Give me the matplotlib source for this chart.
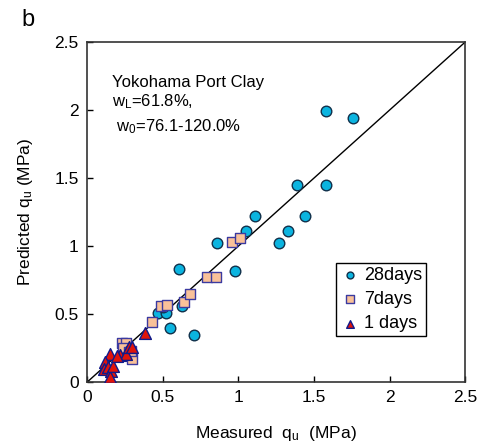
import numpy as np
import matplotlib
matplotlib.use('Agg')
import matplotlib.pyplot as plt

plt.rcParams['font.family'] = ['Liberation Sans', 'DejaVu Sans']
plt.rcParams['mathtext.default'] = 'regular'

# 28 days
d28_meas = [0.47, 0.52, 0.50, 0.55, 0.63, 0.71, 0.61, 0.86, 0.98, 1.05, 1.11,
            1.27, 1.33, 1.39, 1.44, 1.58, 1.58, 1.76]
d28_pred = [0.51, 0.51, 0.55, 0.40, 0.56, 0.35, 0.83, 1.02, 0.82, 1.11, 1.22,
            1.02, 1.11, 1.45, 1.22, 1.45, 1.99, 1.94]
# 7 days
d7_meas = [0.23, 0.26, 0.24, 0.28, 0.30, 0.29, 0.43, 0.49, 0.53, 0.64, 0.68,
           0.79, 0.85, 0.96, 1.01]
d7_pred = [0.29, 0.29, 0.25, 0.22, 0.17, 0.23, 0.44, 0.56, 0.57, 0.59, 0.65,
           0.77, 0.77, 1.03, 1.06]
# 1 day
d1_meas = [0.38, 0.15, 0.12, 0.11, 0.14, 0.16, 0.15, 0.17, 0.22, 0.26, 0.28,
           0.30, 0.20]
d1_pred = [0.36, 0.21, 0.15, 0.10, 0.11, 0.08, 0.04, 0.12, 0.20, 0.21, 0.26,
           0.26, 0.19]

fig = plt.figure(figsize=(4.84, 4.48), dpi=100)
ax = fig.add_axes([0.18, 0.147, 0.781, 0.759])

ax.plot([0, 2.5], [0, 2.5], color='black', lw=1.0, zorder=1)

ax.scatter(d28_meas, d28_pred, s=58, marker='o', facecolor='#0bb4e0',
           edgecolor='#10304a', linewidth=1.0, zorder=3, label='28days')
ax.scatter(d7_meas, d7_pred, s=62, marker='s', facecolor='#f9c199',
           edgecolor='#3b3aa0', linewidth=1.0, zorder=4, label='7days')
ax.scatter(d1_meas, d1_pred, s=72, marker='^', facecolor='#e0140a',
           edgecolor='#101a8a', linewidth=1.0, zorder=5, label='1 days')

ax.set_xlim(0, 2.5)
ax.set_ylim(0, 2.5)
ticks = [0, 0.5, 1, 1.5, 2, 2.5]
labels = ['0', '0.5', '1', '1.5', '2', '2.5']
ax.set_xticks(ticks)
ax.set_xticklabels(labels)
ax.set_yticks(ticks)
ax.set_yticklabels(labels)
ax.tick_params(direction='in', length=4, width=1, labelsize=12.5, pad=6)
for sp in ax.spines.values():
    sp.set_linewidth(1.2)
    sp.set_color('#333333')

ax.set_xlabel('Measured  q$_{u}$  (MPa)', fontsize=12.5, labelpad=13)
ax.set_ylabel('Predicted q$_{u}$ (MPa)', fontsize=12.5, labelpad=14)

ax.text(0.065, 0.88, 'Yokohama Port Clay', transform=ax.transAxes, fontsize=12,
        va='center')
ax.text(0.065, 0.826, 'w$_{L}$=61.8%,', transform=ax.transAxes, fontsize=12,
        va='center')
ax.text(0.065, 0.75, ' w$_{0}$=76.1-120.0%', transform=ax.transAxes, fontsize=12,
        va='center')

leg = ax.legend(loc='lower right', bbox_to_anchor=(0.921, 0.109), fontsize=13,
                markerscale=0.65, handletextpad=0.2, handlelength=1.2,
                borderpad=0.2, labelspacing=0.4, fancybox=False,
                framealpha=1, edgecolor='black')
leg.get_frame().set_linewidth(1.0)

fig.text(0.045, 0.955, 'b', fontsize=17, va='center')

fig.savefig('out.png', dpi=100)
